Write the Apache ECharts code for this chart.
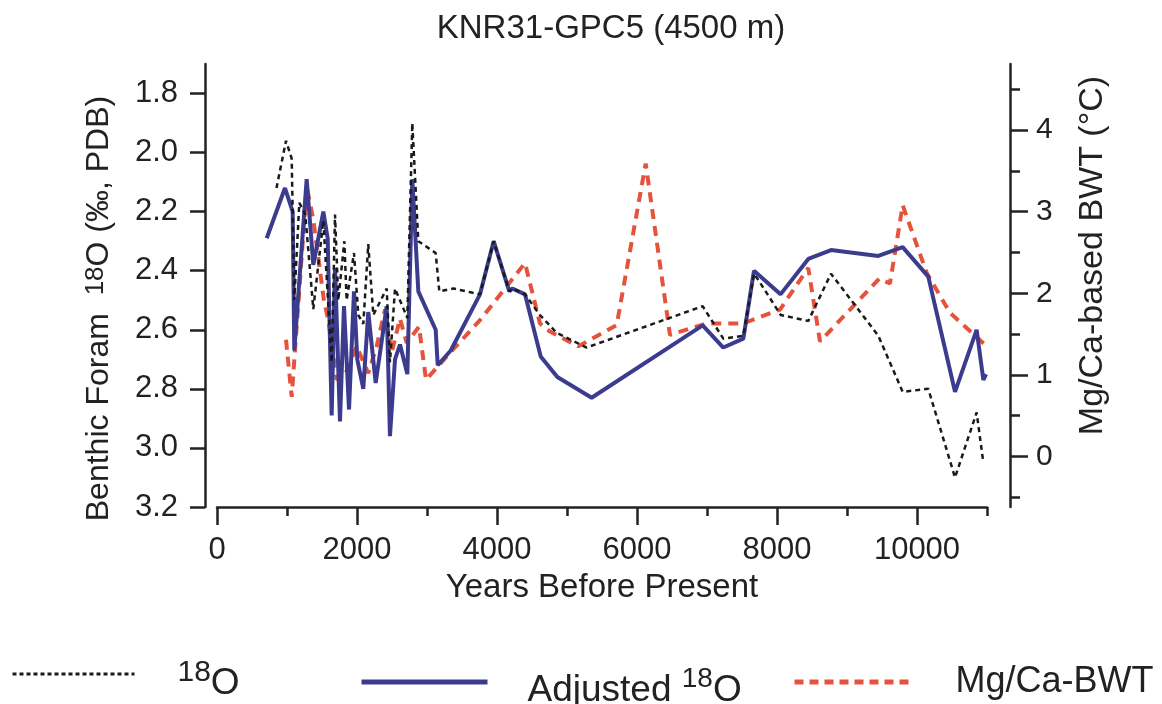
<!DOCTYPE html>
<html>
<head>
<meta charset="utf-8">
<script src="https://cdn.jsdelivr.net/npm/echarts@6/dist/echarts.min.js"></script>
<style>
  html, body { margin: 0; padding: 0; background: #fff; }
  #chart { width: 1162px; height: 704px; }
</style>
</head>
<body>
<div id="chart"></div>
<script>
// raw benthic d18O (dotted black)
const rawYears = [850, 986, 1067, 1104, 1176, 1261, 1376, 1519, 1638, 1686, 1733, 1819, 1852, 1957, 2019, 2090, 2161, 2233, 2424, 2471, 2543, 2719, 2790, 2876, 3124, 3176, 3376, 3757, 3952, 4176, 4219, 4400, 4614, 4852, 5281, 6938, 7233, 7519, 7671, 7757, 8053, 8447, 8771, 9447, 9795, 10161, 10543, 10852, 10948];
const rawD18O = [2.12, 1.96, 2.02, 2.50, 2.17, 2.21, 2.53, 2.23, 2.71, 2.21, 2.50, 2.30, 2.50, 2.34, 2.55, 2.58, 2.31, 2.55, 2.46, 2.71, 2.46, 2.56, 1.90, 2.30, 2.34, 2.47, 2.46, 2.48, 2.30, 2.47, 2.46, 2.48, 2.55, 2.61, 2.66, 2.52, 2.63, 2.62, 2.41, 2.44, 2.55, 2.57, 2.41, 2.62, 2.81, 2.80, 3.10, 2.88, 3.05];

// adjusted d18O (solid blue)
const adjYears = [710, 971, 1081, 1104, 1281, 1376, 1519, 1581, 1638, 1686, 1757, 1814, 1886, 1957, 2004, 2090, 2161, 2267, 2424, 2471, 2543, 2614, 2719, 2790, 2876, 3124, 3153, 3339, 3757, 3952, 4176, 4219, 4400, 4624, 4862, 5352, 6938, 7233, 7519, 7671, 8050, 8447, 8771, 9447, 9795, 10161, 10543, 10852, 10948, 10986];
const adjD18O = [2.29, 2.12, 2.20, 2.67, 2.09, 2.38, 2.20, 2.29, 2.89, 2.39, 2.91, 2.52, 2.87, 2.47, 2.70, 2.80, 2.54, 2.78, 2.52, 2.96, 2.70, 2.65, 2.75, 2.09, 2.47, 2.60, 2.72, 2.67, 2.48, 2.30, 2.47, 2.46, 2.48, 2.69, 2.76, 2.83, 2.585, 2.66, 2.63, 2.40, 2.48, 2.36, 2.33, 2.35, 2.32, 2.42, 2.81, 2.60, 2.77, 2.75];

// Mg/Ca bottom water temperature (dashed red)
const bwtYears = [986, 1067, 1281, 1376, 1526, 1590, 1710, 1838, 1995, 2161, 2281, 2400, 2495, 2614, 2710, 2886, 2986, 3153, 3329, 3757, 4400, 4614, 4757, 5161, 5710, 6124, 6471, 6995, 7519, 8043, 8447, 8614, 9462, 9614, 9795, 10138, 10471, 10971];
const bwtTemp = [1.43, 0.73, 3.31, 2.90, 1.92, 1.67, 0.94, 1.02, 1.35, 1.02, 1.35, 1.80, 1.27, 1.69, 1.39, 1.59, 0.94, 1.10, 1.27, 1.67, 2.37, 1.63, 1.53, 1.35, 1.61, 3.59, 1.49, 1.63, 1.63, 1.80, 2.31, 1.41, 2.18, 2.12, 3.08, 2.25, 1.76, 1.37];

// tick labels
const xMajorTicks = [0, 2000, 4000, 6000, 8000, 10000];
const xMinorTicks = [1000, 3000, 5000, 7000, 9000, 11000];
const leftTicks = [1.8, 2.0, 2.2, 2.4, 2.6, 2.8, 3.0, 3.2];
const rightTicks = [0, 1, 2, 3, 4];
const rightMinorTicks = [-0.5, 0.5, 1.5, 2.5, 3.5, 4.5];

const zip = (xs, ys) => xs.map((x, i) => [x, ys[i]]);

const ink = "#222";
const font = "Liberation Sans, Arial, Helvetica, sans-serif";
const tickStyle = { color: ink, width: 2.5 };

const supRich = (supSize) => ({
  sup: { fontSize: supSize, fontFamily: font, color: ink, verticalAlign: "top", lineHeight: 26 },
  o: { fontSize: 37, fontFamily: font, color: ink, verticalAlign: "bottom", lineHeight: 44 },
});

const chart = echarts.init(document.getElementById("chart"));

chart.setOption({
  animation: false,
  textStyle: { fontFamily: font, color: ink },
  title: {
    text: "KNR31-GPC5 (4500 m)",
    left: 606,
    textAlign: "center",
    top: 7,
    textStyle: { fontFamily: font, fontSize: 33, fontWeight: "normal", color: ink },
  },
  grid: { left: 217, right: 175, top: 64, bottom: 197 },
  legend: [
    {
      data: ["18O"],
      left: 6,
      top: 653,
      itemWidth: 122,
      itemHeight: 6,
      itemStyle: { opacity: 0 },
      lineStyle: { width: 3, type: [4, 3] },
      formatter: () => "{sup|18}{o|O}",
      textStyle: { padding: [12, 0, 0, 38], rich: supRich(30) },
    },
    {
      data: ["Adjusted 18O"],
      left: 354,
      top: 660,
      itemWidth: 126,
      itemHeight: 6,
      itemStyle: { opacity: 0 },
      lineStyle: { width: 5 },
      formatter: () => "{o|Adjusted }{sup|18}{o|O}",
      textStyle: { padding: [10, 0, 0, 35], rich: supRich(28) },
    },
    {
      data: ["Mg/Ca-BWT"],
      left: 787,
      top: 657,
      itemWidth: 119,
      itemHeight: 6,
      itemStyle: { opacity: 0 },
      lineStyle: { width: 5, type: [9, 6] },
      textStyle: { fontSize: 36, lineHeight: 40, fontFamily: font, color: ink, padding: [0, 0, 0, 37] },
    },
  ],
  xAxis: [
    {
      type: "value",
      min: 0,
      max: 11000,
      position: "bottom",
      name: "Years Before Present",
      nameLocation: "middle",
      nameGap: 64,
      nameTextStyle: { fontSize: 33, color: ink, fontFamily: font },
      axisLine: { show: true, onZero: false, lineStyle: tickStyle },
      axisTick: { show: true, customValues: xMajorTicks, length: 18, lineStyle: tickStyle },
      axisLabel: { customValues: xMajorTicks, fontSize: 31, color: ink, margin: 28, formatter: (v) => String(v) },
      splitLine: { show: false },
    },
    {
      type: "value",
      min: 0,
      max: 11000,
      position: "bottom",
      axisLine: { show: false, onZero: false },
      axisTick: { show: true, customValues: xMinorTicks, length: 9, lineStyle: tickStyle },
      axisLabel: { show: false },
      splitLine: { show: false },
    },
  ],
  yAxis: [
    {
      type: "value",
      min: 1.7,
      max: 3.2,
      inverse: true,
      position: "left",
      offset: 12,
      name: "Benthic Foram  {sup|18}O (‰, PDB)",
      nameLocation: "middle",
      nameRotate: 90,
      nameGap: 90,
      nameTextStyle: {
        fontSize: 32,
        color: ink,
        fontFamily: font,
        padding: [0, 46, 0, 0],
        rich: {
          sup: { fontSize: 26, fontFamily: font, color: ink, verticalAlign: "top", lineHeight: 24 },
        },
      },
      axisLine: { show: true, onZero: false, lineStyle: tickStyle },
      axisTick: { show: true, customValues: leftTicks, length: 15, lineStyle: tickStyle },
      axisLabel: { customValues: leftTicks, fontSize: 31, color: ink, margin: 27, formatter: (v) => v.toFixed(1) },
      splitLine: { show: false },
    },
    {
      type: "value",
      min: -0.62,
      max: 4.81,
      position: "right",
      offset: 23,
      name: "Mg/Ca-based BWT (°C)",
      nameLocation: "middle",
      nameRotate: 90,
      nameGap: 66,
      nameTextStyle: { fontSize: 34, color: ink, fontFamily: font, padding: [0, 0, 0, 60] },
      axisLine: { show: true, onZero: false, lineStyle: tickStyle },
      axisTick: { show: true, customValues: rightTicks, length: 18, lineStyle: tickStyle },
      axisLabel: { customValues: rightTicks, fontSize: 30, color: ink, margin: 26 },
      splitLine: { show: false },
    },
    {
      type: "value",
      min: -0.62,
      max: 4.81,
      position: "right",
      offset: 23,
      axisLine: { show: false, onZero: false },
      axisTick: { show: true, customValues: rightMinorTicks, length: 10, lineStyle: tickStyle },
      axisLabel: { show: false },
      splitLine: { show: false },
    },
  ],
  series: [
    {
      name: "Mg/Ca-BWT",
      type: "line",
      yAxisIndex: 1,
      data: zip(bwtYears, bwtTemp),
      showSymbol: false,
      symbol: "none",
      lineStyle: { color: "#e5533c", width: 4, type: [10, 7] },
      itemStyle: { color: "#e5533c" },
    },
    {
      name: "Adjusted 18O",
      type: "line",
      yAxisIndex: 0,
      data: zip(adjYears, adjD18O),
      showSymbol: false,
      symbol: "none",
      lineStyle: { color: "#3c3c8e", width: 4 },
      itemStyle: { color: "#3c3c8e" },
    },
    {
      name: "18O",
      type: "line",
      yAxisIndex: 0,
      data: zip(rawYears, rawD18O),
      showSymbol: false,
      symbol: "none",
      lineStyle: { color: "#1a1a1a", width: 2.5, type: [5, 4] },
      itemStyle: { color: "#1a1a1a" },
    },
  ],
});
</script>
</body>
</html>
